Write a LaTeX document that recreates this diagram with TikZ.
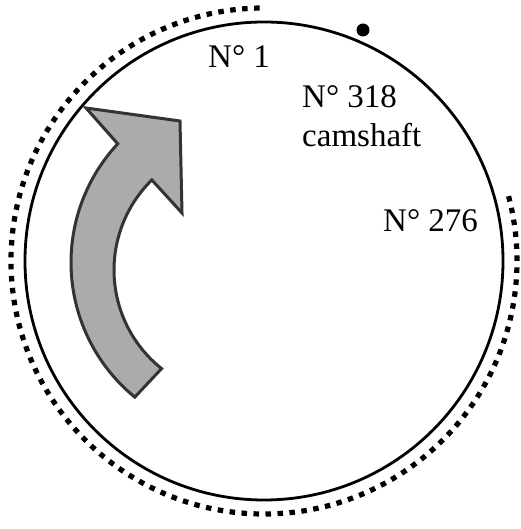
\documentclass[tikz,border=0pt]{standalone}
\usepackage{fontspec}
\setmainfont{Liberation Serif}

\begin{document}
\begin{tikzpicture}[x=1pt,y=1pt,every node/.style={font=\fontsize{33}{36}\selectfont,anchor=base west,inner sep=0pt}]
  \useasboundingbox (0,0) rectangle (520,529);
  \draw[line width=2.8pt] (264,268) circle[radius=239];
  \draw[line width=5.2pt,dash pattern=on 5.5pt off 6.5pt] (264,268) ++(91:253) arc[start angle=91,end angle=375,radius=253];
  \fill (363,499) circle[radius=6.5];
  % turning arrow
  \draw[line width=3pt,draw=black!80,fill=black!33,line join=miter] (86,421) -- (180,408) -- (182,316)
    -- ([shift={(134.4:126)}]240,259) arc[start angle=134.4,end angle=231.5,radius=126]
    -- ([shift={(230.7:174)}]245,266.5) arc[start angle=230.7,end angle=137,radius=174] -- cycle;
  \node (no1) at (208,461) {N° 1};
  \node (no318) at (302,421) {N° 318};
  \node (cam) at (302,382) {camshaft};
  \node (no276) at (383,297) {N° 276};
\end{tikzpicture}
\end{document}
